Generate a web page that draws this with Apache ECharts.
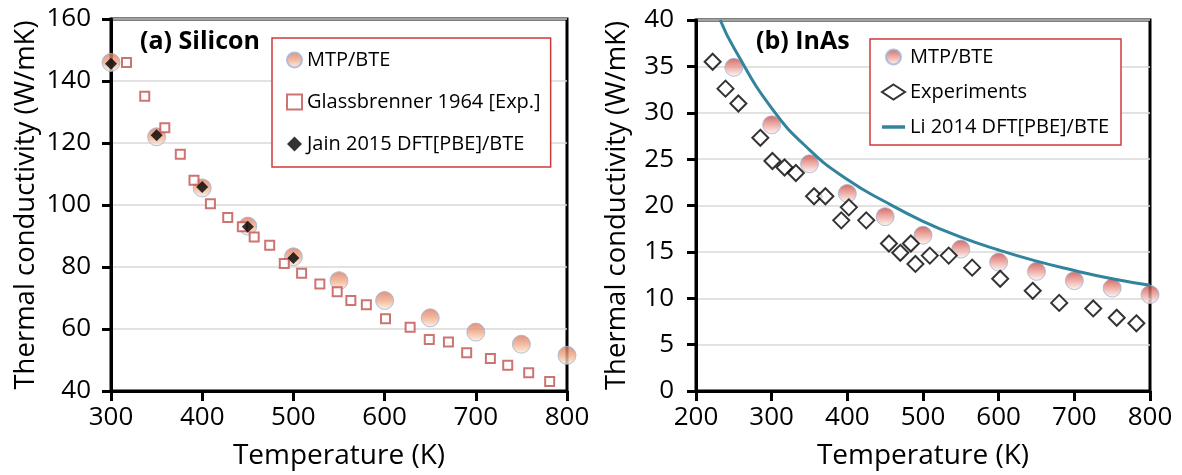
<!DOCTYPE html>
<html>
<head>
<meta charset="utf-8">
<script src="https://cdn.jsdelivr.net/npm/echarts@6/dist/echarts.min.js"></script>
<style>html,body{margin:0;padding:0;background:#fff}#c{width:1182px;height:475px}</style>
</head>
<body>
<div id="c"></div>
<script>
// ---- (a) Silicon ----
const siMtpT = [300, 350, 400, 450, 500, 550, 600, 650, 700, 750, 800];
const siMtpK = [146, 122, 105.5, 93.2, 83.3, 75.6, 69.2, 63.6, 59, 55.1, 51.5];
const siExpT = [299, 317, 337, 359, 376, 391, 409, 428, 444, 457, 474, 490, 509, 529, 548, 563, 580, 601, 628, 649, 670, 690, 716, 735, 758, 781];
const siExpK = [155, 146, 135.1, 124.9, 116.4, 108, 100.4, 96, 93, 89.7, 87, 81.1, 78, 74.5, 72, 69.2, 67.8, 63.3, 60.6, 56.6, 55.8, 52.3, 50.5, 48.3, 45.9, 43.1];
const siJainT = [300, 350, 400, 450, 500];
const siJainK = [145.6, 122.5, 105.8, 93, 82.9];
// ---- (b) InAs ----
const inMtpT = [250, 300, 350, 400, 450, 500, 550, 600, 650, 700, 750, 800];
const inMtpK = [34.9, 28.7, 24.5, 21.3, 18.8, 16.8, 15.3, 13.9, 12.9, 11.9, 11.1, 10.4];
const inExpT = [222, 239, 256, 285, 301, 317, 332, 356, 371, 392, 402, 425, 455, 470, 484, 490, 509, 534, 565, 602, 645, 680, 725, 756, 782];
const inExpK = [35.5, 32.6, 31.0, 27.3, 24.8, 24.1, 23.5, 21.0, 21.0, 18.4, 19.8, 18.4, 15.9, 14.9, 15.9, 13.7, 14.6, 14.6, 13.3, 12.1, 10.8, 9.5, 8.9, 7.9, 7.3];
const inLiT = [232, 250, 300, 350, 400, 450, 500, 550, 600, 650, 700, 750, 800];
const inLiK = [40, 37.0, 30.5, 26.0, 22.8, 20.4, 18.3, 16.6, 15.2, 14.0, 13.0, 12.1, 11.4];

const zip = (a, b) => a.map((v, i) => [v, b[i]]);
const FONT = '"Open Sans", sans-serif';

const grad = (top, mid, bot) => ({
  type: 'linear', x: 0, y: 0, x2: 0, y2: 1,
  colorStops: [{offset: 0, color: top}, {offset: 0.5, color: mid}, {offset: 1, color: bot}]
});
const siCircle = grad('#d8775c', '#eea988', '#fff0e0');
const inCircle = grad('#c9453f', '#e99c94', '#fff6f2');

function xAxis(gi, min, max) {
  return {
    gridIndex: gi, type: 'value', min: min, max: max, interval: 100,
    name: 'Temperature (K)', nameLocation: 'middle', nameGap: 51,
    nameTextStyle: {fontFamily: FONT, fontSize: 28, color: '#000'},
    axisLine: {lineStyle: {color: '#000', width: 3}},
    axisTick: {show: true, length: 10, lineStyle: {color: '#000', width: 3}},
    axisLabel: {fontFamily: FONT, fontSize: 26, color: '#000', margin: 14},
    splitLine: {show: false}
  };
}
function yAxis(gi, min, max, iv, gap, margin) {
  return {
    gridIndex: gi, type: 'value', min: min, max: max, interval: iv,
    name: 'Thermal conductivity (W/mK)', nameLocation: 'middle', nameGap: gap,
    nameTextStyle: {fontFamily: FONT, fontSize: 27.5, color: '#000'},
    axisLine: {lineStyle: {color: '#000', width: 3}},
    axisTick: {show: true, length: 9, lineStyle: {color: '#000', width: 3}},
    axisLabel: {fontFamily: FONT, fontSize: 26, color: '#000', margin: margin},
    splitLine: {show: true, lineStyle: {color: '#d9d9d9', width: 1.5}}
  };
}

const option = {
  backgroundColor: '#fff',
  animation: false,
  title: [
    {text: '(a) Silicon', left: 135, top: 24, textStyle: {fontFamily: FONT, fontSize: 25, fontWeight: 'bold', color: '#000'}},
    {text: '(b) InAs', left: 751, top: 24, textStyle: {fontFamily: FONT, fontSize: 25, fontWeight: 'bold', color: '#000'}}
  ],
  grid: [
    {left: 111, right: 615, top: 19, bottom: 81, show: true, borderColor: '#000', borderWidth: 3, backgroundColor: 'transparent'},
    {left: 696, right: 32, top: 20, bottom: 81, show: true, borderColor: '#000', borderWidth: 3, backgroundColor: 'transparent'}
  ],
  xAxis: [xAxis(0, 300, 800), xAxis(1, 200, 800)],
  yAxis: [yAxis(0, 40, 160, 20, 71, 20), yAxis(1, 0, 40, 5, 65, 22)],
  legend: [
    {
      left: 272, top: 38, orient: 'vertical', backgroundColor: '#fff',
      borderColor: '#d03a3a', borderWidth: 1.5, padding: [11, 10, 12, 14],
      itemWidth: 15, itemHeight: 15, itemGap: 20, itemTextGap: 4,
      textStyle: {fontFamily: FONT, fontSize: 20, color: '#000', lineHeight: 22},
      data: ['MTP/BTE', 'Glassbrenner 1964 [Exp.]', 'Jain 2015 DFT[PBE]/BTE']
    },
    {
      left: 870, top: 39, orient: 'vertical', backgroundColor: '#fff',
      borderColor: '#d03a3a', borderWidth: 1.5, padding: [7, 12, 7, 11],
      itemWidth: 23, itemHeight: 15, itemGap: 13, itemTextGap: 3,
      textStyle: {fontFamily: FONT, fontSize: 20, color: '#000', lineHeight: 22},
      data: [
        {name: 'MTP/BTE ', icon: 'circle'},
        {name: 'Experiments', icon: 'diamond'},
        {name: 'Li 2014 DFT[PBE]/BTE', icon: 'path://M0,0 L23,0 L23,3.5 L0,3.5 Z', itemStyle: {color: '#31849b', borderWidth: 0}}
      ]
    }
  ],
  series: [
    {
      name: 'MTP/BTE', type: 'scatter', xAxisIndex: 0, yAxisIndex: 0,
      data: zip(siMtpT, siMtpK), symbol: 'circle', symbolSize: 18,
      itemStyle: {color: siCircle, borderColor: '#9db4d8', borderWidth: 1}
    },
    {
      name: 'Glassbrenner 1964 [Exp.]', type: 'scatter', xAxisIndex: 0, yAxisIndex: 0,
      data: zip(siExpT, siExpK), symbol: 'rect', symbolSize: 9,
      itemStyle: {color: '#fff', borderColor: '#c0504d', borderWidth: 2}
    },
    {
      name: 'Jain 2015 DFT[PBE]/BTE', type: 'scatter', xAxisIndex: 0, yAxisIndex: 0,
      data: zip(siJainT, siJainK), symbol: 'diamond', symbolSize: 12,
      itemStyle: {color: '#000'}
    },
    {
      name: 'MTP/BTE ', type: 'scatter', xAxisIndex: 1, yAxisIndex: 1,
      data: zip(inMtpT, inMtpK), symbol: 'circle', symbolSize: 18,
      itemStyle: {color: inCircle, borderColor: '#9db4d8', borderWidth: 1}
    },
    {
      name: 'Experiments', type: 'scatter', xAxisIndex: 1, yAxisIndex: 1,
      data: zip(inExpT, inExpK), symbol: 'diamond', symbolSize: 16,
      itemStyle: {color: '#fff', borderColor: '#000', borderWidth: 2}
    },
    {
      name: 'Li 2014 DFT[PBE]/BTE', type: 'line', xAxisIndex: 1, yAxisIndex: 1,
      data: zip(inLiT, inLiK), smooth: true, showSymbol: false, symbol: 'none',
      lineStyle: {color: '#31849b', width: 3}, itemStyle: {color: '#31849b'}, clip: false
    }
  ]
};

const chart = echarts.init(document.getElementById('c'), null, {renderer: 'canvas'});
chart.setOption(option);
</script>
</body>
</html>
